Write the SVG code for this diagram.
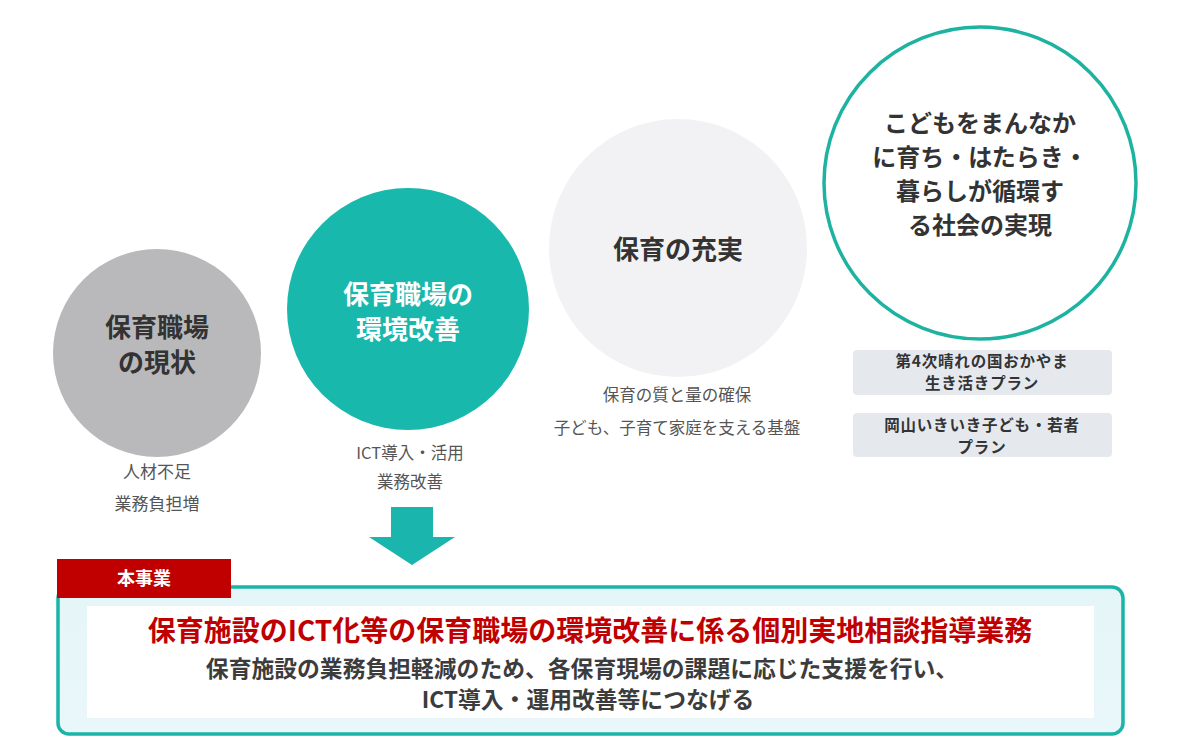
<svg xmlns="http://www.w3.org/2000/svg" width="1200" height="746" viewBox="0 0 1200 746">
<style>
text{font-family:"Noto Sans CJK JP","Noto Sans",sans-serif;text-anchor:middle}
.big{font-size:26px;font-weight:700}
.lbl{font-size:16.5px;fill:#555;font-weight:400}
.plan{font-size:15.5px;font-weight:700;fill:#333;letter-spacing:0.8px}
.sub{font-size:22.8px;font-weight:700;fill:#3c3c3c}
</style>
<defs>
<linearGradient id="boxg" x1="0" y1="0" x2="0" y2="1">
<stop offset="0" stop-color="#e4f5f8"/><stop offset="1" stop-color="#e9f7fa"/>
</linearGradient>
</defs>
<rect width="1200" height="746" fill="#ffffff"/>
<g id="node-current">
<circle cx="157" cy="353" r="104" fill="#b9b9bb"/>
<text class="big" x="157" y="337" fill="#333">保育職場</text>
<text class="big" x="157" y="372" fill="#333">の現状</text>
<text class="lbl" x="157" y="478" style="font-size:17px">人材不足</text>
<text class="lbl" x="157" y="510" style="font-size:17px">業務負担増</text>
</g>
<g id="node-improve">
<circle cx="408" cy="309" r="121" fill="#18b8ad"/>
<text class="big" x="408" y="304" fill="#ffffff">保育職場の</text>
<text class="big" x="408" y="339" fill="#ffffff">環境改善</text>
<text class="lbl" x="410" y="459">ICT導入・活用</text>
<text class="lbl" x="410" y="488">業務改善</text>
</g>
<g id="node-enrich">
<circle cx="678" cy="248" r="129" fill="#f2f2f4"/>
<text class="big" x="678" y="259" fill="#333">保育の充実</text>
<text class="lbl" x="677" y="401">保育の質と量の確保</text>
<text class="lbl" x="677" y="434">子ども、子育て家庭を支える基盤</text>
</g>
<g id="node-society">
<circle cx="980" cy="183" r="156" fill="#ffffff" stroke="#1db3a0" stroke-width="3.5"/>
<text class="big" x="980" y="132" fill="#333" style="font-size:24px">こどもをまんなか</text>
<text class="big" x="980" y="166" fill="#333" style="font-size:24px">に育ち・はたらき・</text>
<text class="big" x="980" y="200" fill="#333" style="font-size:24px">暮らしが循環す</text>
<text class="big" x="980" y="234" fill="#333" style="font-size:24px">る社会の実現</text>
</g>
<g id="node-plan1">
<rect x="853" y="350" width="259" height="45" rx="4" fill="#e5e9ee"/>
<text class="plan" x="982" y="367">第4次晴れの国おかやま</text>
<text class="plan" x="982" y="389">生き活きプラン</text>
</g>
<g id="node-plan2">
<rect x="853" y="413" width="259" height="44" rx="4" fill="#e5e9ee"/>
<text class="plan" x="982" y="431">岡山いきいき子ども・若者</text>
<text class="plan" x="982" y="453">プラン</text>
</g>
<g id="connectors">
<polygon points="391,507 433,507 433,537 455,537 412,565 369,537 391,537" fill="#1ab5ad"/>
</g>
<g id="node-project">
<rect x="58" y="587" width="1065" height="147" rx="11" fill="url(#boxg)" stroke="#1bb5a8" stroke-width="3.5"/>
<rect x="87" y="606" width="1007" height="112" fill="#ffffff"/>
<rect x="57" y="559" width="174" height="39" fill="#c00000"/>
<text x="144" y="585" fill="#ffffff" style="font-size:18px;font-weight:700">本事業</text>
<text x="590" y="641" fill="#c00000" style="font-size:28px;font-weight:700">保育施設のICT化等の保育職場の環境改善に係る個別実地相談指導業務</text>
<text class="sub" x="582" y="677">保育施設の業務負担軽減のため、各保育現場の課題に応じた支援を行い、</text>
<text class="sub" x="588" y="708">ICT導入・運用改善等につなげる</text>
</g>
</svg>
